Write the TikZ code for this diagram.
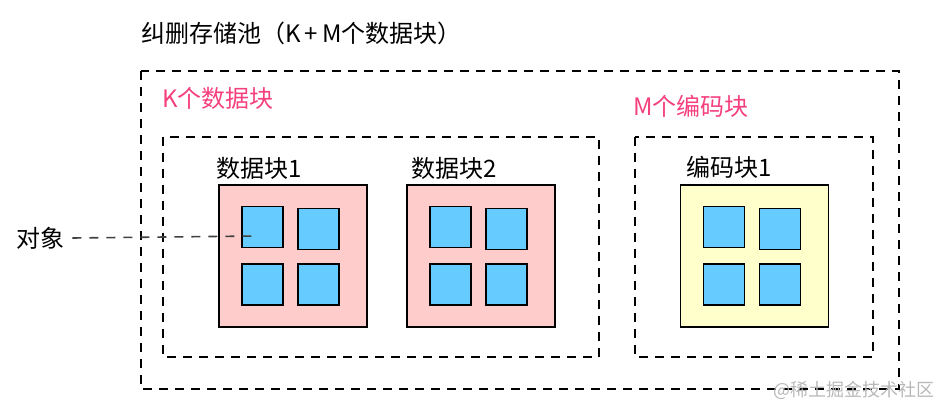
\documentclass[tikz,border=0pt]{standalone}
\usepackage{fontspec}
\setmainfont{Noto Sans CJK SC}
\definecolor{pinkfill}{HTML}{FFCCCC}
\definecolor{yellowfill}{HTML}{FFFFCC}
\definecolor{bluefill}{HTML}{66CCFF}
\definecolor{pinktext}{HTML}{F5407F}
\tikzset{
  frame/.style={draw,line width=1.6pt,dash pattern=on 9pt off 7pt},
  blk/.style={draw,line width=1.8pt,minimum width=148pt,minimum height=142pt,inner sep=0pt},
  sq/.style={draw,line width=1.8pt,fill=bluefill,minimum size=41pt,inner sep=0pt},
  lbl/.style={anchor=west,inner sep=0pt,font=\fontsize{24}{26}\selectfont},
}
\begin{document}
\begin{tikzpicture}[x=1pt,y=-1pt]
\useasboundingbox (0,0) rectangle (948,414);
% frames
\draw[frame] (141,71) rectangle (899,389);
\draw[frame] (163,137) rectangle (599,357);
\draw[frame] (635,137) rectangle (873,357);
% labels
\node[lbl] (title) at (141,33) {纠删存储池（K\,+\,M个数据块）};
\node[lbl,text=pinktext] (kgrp) at (162,98) {K个数据块};
\node[lbl,text=pinktext] (mgrp) at (633,106) {M个编码块};
\node[lbl] (l1) at (216,168) {数据块1};
\node[lbl] (l2) at (411,168) {数据块2};
\node[lbl] (l3) at (686,167) {编码块1};
\node[lbl] (obj) at (16,238) {对象};
% blocks
\node[blk,fill=pinkfill] (d1) at (293,256) {};
\node[blk,fill=pinkfill] (d2) at (481,256) {};
\node[blk,fill=yellowfill] (c1) at (754.5,256) {};
\foreach \b in {d1,d2,c1}{
  \node[sq] (\b-a) at ([shift={(-30.5,-29)}]\b.center) {};
  \node[sq] (\b-b) at ([shift={(25.5,-27)}]\b.center) {};
  \node[sq] (\b-c) at ([shift={(-30.5,28.5)}]\b.center) {};
  \node[sq] (\b-d) at ([shift={(25.5,28.5)}]\b.center) {};
}
\coordinate (tip) at (258,236);
\draw[black!75,line width=1.6pt,dash pattern=on 9pt off 8pt] ([xshift=8pt]obj.east) -- (tip);
\node[anchor=west,inner sep=0pt,text=black!28,font=\fontsize{18}{20}\selectfont] (wm) at (773,390) {@稀土掘金技术社区};
\end{tikzpicture}
\end{document}
